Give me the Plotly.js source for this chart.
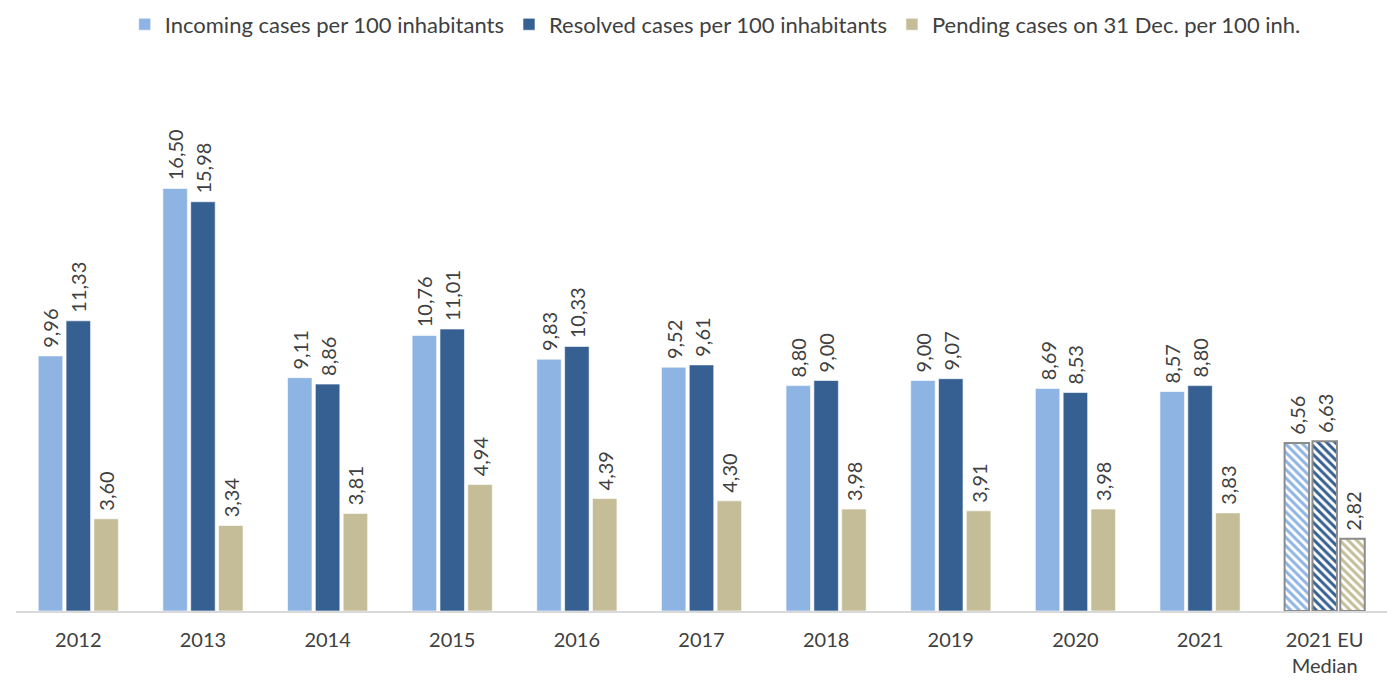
<!DOCTYPE html>
<html><head><meta charset="utf-8">
<script src="https://cdn.plot.ly/plotly-3.0.1.min.js"></script>
<style>html,body{margin:0;padding:0;background:#fff}#c{width:1400px;height:687px}</style>
</head><body><div id="c"></div>
<script>
const categories = ["2012","2013","2014","2015","2016","2017","2018","2019","2020","2021","2021 EU<br>Median"];
const incoming = [9.96,16.50,9.11,10.76,9.83,9.52,8.80,9.00,8.69,8.57,6.56];
const resolved = [11.33,15.98,8.86,11.01,10.33,9.61,9.00,9.07,8.53,8.80,6.63];
const pending = [3.60,3.34,3.81,4.94,4.39,4.30,3.98,3.91,3.98,3.83,2.82];
const seriesNames = ["Incoming cases per 100 inhabitants","Resolved cases per 100 inhabitants","Pending cases on 31 Dec. per 100 inh."];
const colors = ["#8EB4E3","#366092","#C4BD97"];
const FONT = "Lato, 'Open Sans', sans-serif";
const last = categories.length - 1;
function mk(vals, i){
  return {
    type:'bar', x:categories, y:vals, name:seriesNames[i],
    text: vals.map(v=>'\u00A0'+v.toFixed(2).replace('.',',')),
    textposition:'outside', textangle:-90, cliponaxis:false, constraintext:'none',
    textfont:{family:FONT,size:20,color:'#404040'},
    marker:{
      color: colors[i],
      line:{color: vals.map((v,k)=>k===last?'#8C8C8C':'rgba(255,255,255,0.6)'), width: vals.map((v,k)=>k===last?2:1)},
      pattern:{shape: vals.map((v,k)=>k===last?'\\':''), fgcolor: colors[i], bgcolor:'#ffffff', fillmode:'replace', size:6, solidity:0.5}
    },
    hoverinfo:'skip'
  };
}
const data = [mk(incoming,0), mk(resolved,1), mk(pending,2)];
const layout = {
  width:1400, height:687,
  margin:{l:16,r:13,t:150,b:76},
  paper_bgcolor:'#fff', plot_bgcolor:'#fff',
  barmode:'group', bargap:0.33, bargroupgap:0.12,
  font:{family:FONT,color:'#404040',size:20},
  showlegend:true,
  legend:{orientation:'h', x:0.51, xanchor:'center', yref:'container', y:0.995, yanchor:'top', font:{family:FONT,size:22,color:'#404040'}, itemwidth:30, traceorder:'normal'},
  xaxis:{type:'category', showgrid:false, showline:true, linecolor:'#D9D9D9', linewidth:2, ticks:'', ticklabelstandoff:10, tickfont:{family:FONT,size:20,color:'#404040'}, zeroline:false},
  yaxis:{range:[0,18], visible:false, showgrid:false, zeroline:false}
};
Plotly.newPlot('c', data, layout, {displayModeBar:false, staticPlot:true});
</script></body></html>
